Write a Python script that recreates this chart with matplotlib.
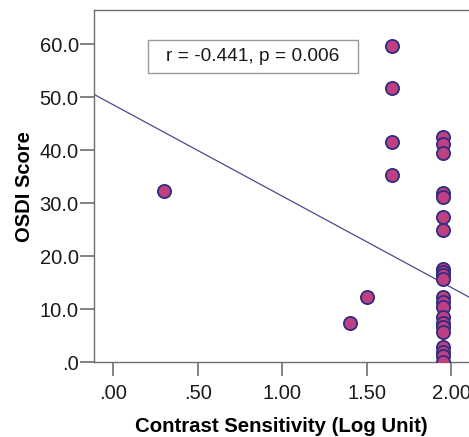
import numpy as np
import matplotlib
matplotlib.use('Agg')
import matplotlib.pyplot as plt
from matplotlib.patches import Rectangle

plt.rcParams['font.family'] = ['Liberation Sans', 'DejaVu Sans']

# contrast sensitivity (log unit) and OSDI score
cs = [0.30, 1.40, 1.50,
      1.65, 1.65, 1.65, 1.65,
      1.95, 1.95, 1.95, 1.95, 1.95, 1.95, 1.95,
      1.95, 1.95, 1.95, 1.95, 1.95, 1.95, 1.95,
      1.95, 1.95, 1.95, 1.95, 1.95, 1.95, 1.95, 1.95]
osdi = [32.4, 7.5, 12.4,
        59.8, 51.8, 41.5, 35.4,
        42.6, 41.2, 39.5, 32.0, 31.2, 27.5, 25.0,
        17.7, 17.1, 16.5, 15.8, 12.4, 11.4, 10.5,
        8.6, 7.4, 6.6, 5.8, 2.9, 2.0, 1.1, 0.0]

# fit line as drawn in the original (intercept, slope)
fit_intercept = 48.6
fit_slope = -17.25

xticks = [0.0, 0.5, 1.0, 1.5, 2.0]
xtick_labels = ['.00', '.50', '1.00', '1.50', '2.00']
yticks = [0, 10, 20, 30, 40, 50, 60]
ytick_labels = ['.0', '10.0', '20.0', '30.0', '40.0', '50.0', '60.0']
stat_text = 'r = -0.441, p = 0.006'

fig = plt.figure(figsize=(4.69, 4.37), dpi=100)
ax = fig.add_axes([0.2004, 0.171, 0.8, 0.806])

ax.scatter(cs, osdi, s=90, color='#BE3F82', edgecolor='#2F2D80', linewidth=1.3, zorder=3)

xl = np.array([-0.2, 2.3])
ax.plot(xl, fit_intercept + fit_slope * xl, color='#4A4A8C', linewidth=0.9, zorder=2)

ax.set_xlim(-0.115, 2.105)
ax.set_ylim(0, 66.5)
ax.set_xticks(xticks)
ax.set_xticklabels(xtick_labels)
ax.set_yticks(yticks)
ax.set_yticklabels(ytick_labels)

for side in ['left', 'bottom', 'top']:
    ax.spines[side].set_color('#6E6E6E')
    ax.spines[side].set_linewidth(1.0)
ax.spines['right'].set_visible(False)
ax.tick_params(direction='out', length=10, width=1.2, color='#6E6E6E',
               labelsize=14.5, labelcolor='#1A1A1A')
ax.tick_params(axis='y', pad=1)
ax.tick_params(axis='x', pad=6)

ax.set_xlabel('Contrast Sensitivity (Log Unit)', fontsize=14.7, fontweight='bold', labelpad=10)
ax.set_ylabel('OSDI Score', fontsize=14.5, fontweight='bold', labelpad=4)

# stat box
ax.add_patch(Rectangle((0.144, 0.821), 0.56, 0.094, transform=ax.transAxes,
                       facecolor='white', edgecolor='#9A9A9A', linewidth=1.0, zorder=4))
ax.text(0.424, 0.868, stat_text, transform=ax.transAxes, ha='center', va='center',
        fontsize=13.8, color='#1A1A1A', zorder=5)

fig.savefig('out.png', dpi=100)
